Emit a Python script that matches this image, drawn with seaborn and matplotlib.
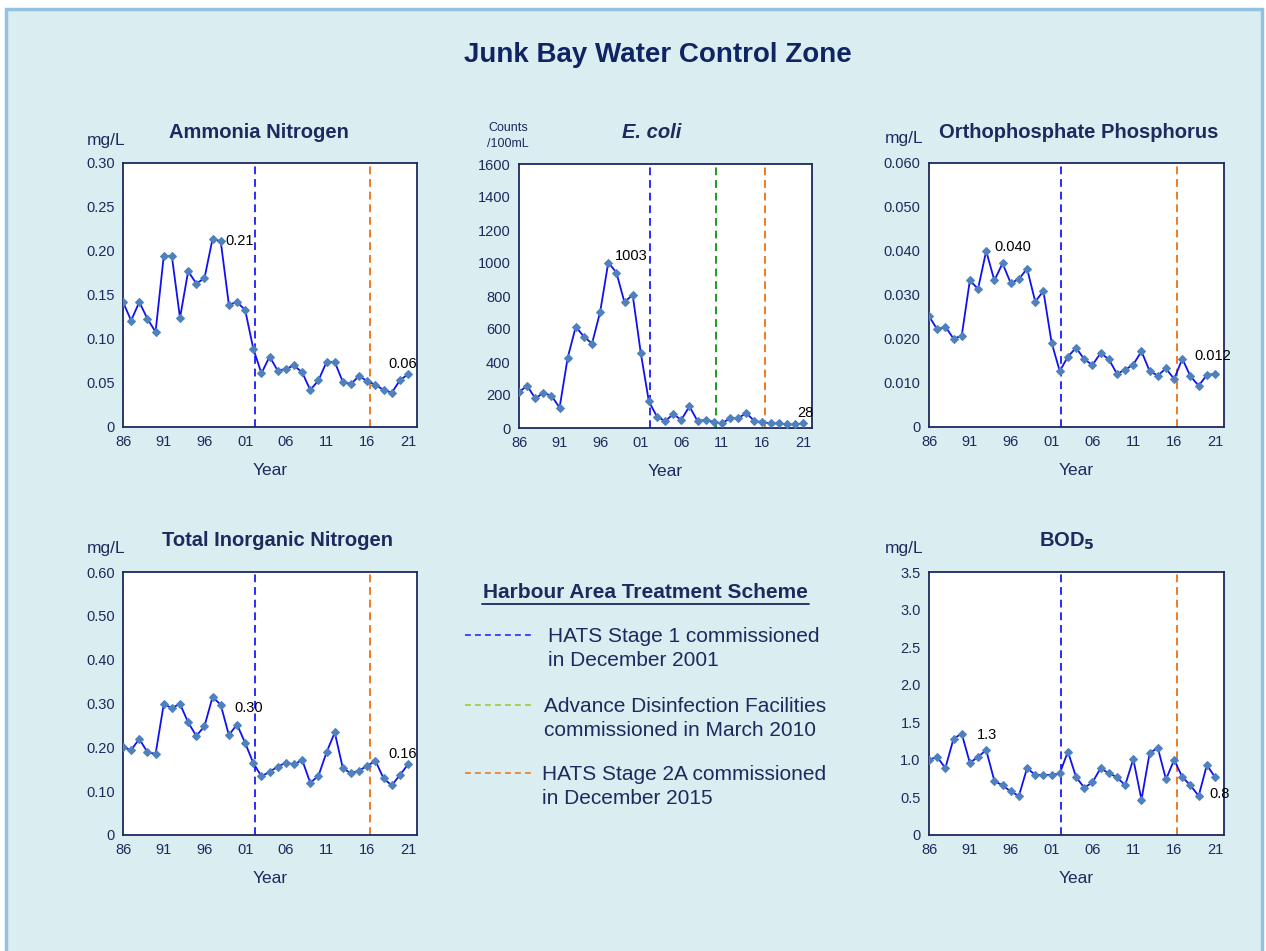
import matplotlib
matplotlib.use("Agg")
import matplotlib.pyplot as plt
import matplotlib.ticker as mticker
from matplotlib.patches import Rectangle
import numpy as np
import seaborn as sns

# ── data ────────────────────────────────────────────────────────────────────
years = list(range(1986, 2022))

ammonia = [0.142, 0.121, 0.142, 0.123, 0.108, 0.194, 0.194, 0.124, 0.177, 0.163,
           0.169, 0.214, 0.211, 0.139, 0.142, 0.133, 0.089, 0.061, 0.080, 0.064,
           0.066, 0.070, 0.062, 0.042, 0.053, 0.074, 0.074, 0.051, 0.049, 0.058,
           0.052, 0.048, 0.042, 0.039, 0.053, 0.060]

ecoli = [218, 256, 180, 212, 196, 123, 426, 615, 553, 512,
         704, 1003, 942, 761, 809, 456, 161, 69, 42, 83,
         50, 131, 42, 50, 36, 28, 59, 59, 91, 42,
         36, 28, 28, 22, 22, 28]

ortho_p = [0.0252, 0.0222, 0.0228, 0.0201, 0.0207, 0.0333, 0.0314, 0.0400, 0.0333, 0.0372,
           0.0327, 0.0336, 0.0360, 0.0285, 0.0309, 0.0192, 0.0127, 0.0160, 0.0180, 0.0154,
           0.0141, 0.0168, 0.0154, 0.0121, 0.0130, 0.0142, 0.0172, 0.0127, 0.0117, 0.0133,
           0.0109, 0.0155, 0.0115, 0.0094, 0.0118, 0.0121]

tin = [0.200, 0.194, 0.219, 0.189, 0.185, 0.298, 0.290, 0.299, 0.257, 0.226,
       0.248, 0.315, 0.297, 0.228, 0.252, 0.210, 0.164, 0.134, 0.144, 0.156,
       0.165, 0.161, 0.171, 0.119, 0.135, 0.189, 0.234, 0.152, 0.141, 0.147,
       0.158, 0.169, 0.129, 0.113, 0.137, 0.161]

bod5 = [1.00, 1.04, 0.89, 1.28, 1.35, 0.96, 1.04, 1.13, 0.72, 0.66,
        0.58, 0.52, 0.89, 0.80, 0.80, 0.80, 0.82, 1.11, 0.77, 0.63,
        0.70, 0.89, 0.82, 0.77, 0.66, 1.01, 0.47, 1.09, 1.16, 0.74,
        1.00, 0.77, 0.66, 0.52, 0.93, 0.77]

major_years = list(range(1986, 2022, 5))
major_labels = ["86", "91", "96", "01", "06", "11", "16", "21"]

hats1_x, adf_x, hats2a_x = 2002.15, 2010.25, 2016.3

# ── styling ─────────────────────────────────────────────────────────────────
NAVY = "#1c2a5e"
LINE = "#1010f0"
MARK = "#4f81bd"
C_HATS1 = "#2b2bff"
C_ADF = "#1f9a1f"
C_ADF_LEG = "#9acd32"
C_HATS2 = "#f07a22"
BG = "#daedf0"

W, H, DPI = 1266, 951, 100

sns.set_theme(style="white")
plt.rcParams["font.family"] = ["Liberation Sans", "DejaVu Sans"]

fig = plt.figure(figsize=(W / DPI, H / DPI), dpi=DPI, facecolor="white")
fig.patches.append(Rectangle((6 / W, -0.01), (1262 - 6) / W, (H - 9) / H + 0.01,
                             transform=fig.transFigure, facecolor=BG,
                             edgecolor="#93c1e1", linewidth=2.5, zorder=-10))


def px_axes(left, top, right, bottom):
    return fig.add_axes([left / W, 1 - bottom / H, (right - left) / W, (bottom - top) / H])


def panel(rect, values, title, title_xy, ymax, ystep, fmt, vlines, notes,
          title_style="normal"):
    ax = px_axes(*rect)
    ax.set_facecolor("white")
    sns.lineplot(x=years, y=values, ax=ax, color=LINE, linewidth=1.3,
                 marker="D", markersize=4.5, markerfacecolor=MARK,
                 markeredgecolor=MARK, zorder=3)
    for xv, col in vlines:
        ax.axvline(xv, color=col, linestyle=(0, (4, 2.5)), linewidth=1.4, zorder=2)
    for (xv, yv, txt) in notes:
        ax.text(xv, yv, txt, ha="center", va="center", fontsize=10.5, color="black", zorder=4)

    ax.set_xlim(1986, 2022.1)
    ax.set_ylim(0, ymax)
    ax.set_xticks(major_years)
    ax.set_xticklabels(major_labels)
    ax.xaxis.set_minor_locator(mticker.MultipleLocator(1))
    ax.set_yticks(np.arange(0, ymax + ystep / 2, ystep))
    ax.yaxis.set_major_formatter(mticker.FuncFormatter(
        lambda v, p: "0" if abs(v) < 1e-12 else fmt.format(v)))
    ax.tick_params(axis="both", which="both", direction="in", colors=NAVY,
                   labelsize=10.5, length=4, width=1, pad=6)
    for s in ax.spines.values():
        s.set_color(NAVY)
        s.set_linewidth(1.3)
    ax.set_xlabel("Year", fontsize=12.5, color=NAVY, labelpad=10)
    ax.set_ylabel("")
    ax.grid(False)

    fig.text(title_xy[0] / W, 1 - title_xy[1] / H, title, ha="center", va="center",
             fontsize=14.5, fontweight="bold", fontstyle=title_style, color=NAVY)
    return ax


# top row
ax1 = panel((123, 163, 417, 427), ammonia, "Ammonia Nitrogen", (259, 132),
            0.30, 0.05, "{:.2f}",
            [(hats1_x, C_HATS1), (hats2a_x, C_HATS2)],
            [(2000.3, 0.211, "0.21"), (2020.4, 0.072, "0.06")])
ax2 = panel((519, 164, 812, 428), ecoli, "E. coli", (652, 132),
            1600, 200, "{:.0f}",
            [(hats1_x, C_HATS1), (adf_x, C_ADF), (hats2a_x, C_HATS2)],
            [(1999.8, 1040, "1003"), (2021.3, 91, "28")], title_style="italic")
ax3 = panel((929, 163, 1224, 427), ortho_p, "Orthophosphate Phosphorus", (1079, 132),
            0.060, 0.010, "{:.3f}",
            [(hats1_x, C_HATS1), (hats2a_x, C_HATS2)],
            [(1996.3, 0.0408, "0.040"), (2020.7, 0.0161, "0.012")])
# bottom row
ax4 = panel((123, 572, 417, 835), tin, "Total Inorganic Nitrogen", (277, 541),
            0.60, 0.10, "{:.2f}",
            [(hats1_x, C_HATS1), (hats2a_x, C_HATS2)],
            [(2001.4, 0.290, "0.30"), (2020.3, 0.184, "0.16")])
ax5 = panel((929, 572, 1224, 835), bod5, "BOD$_\\mathbf{5}$", (1067, 541),
            3.5, 0.5, "{:.1f}",
            [(hats1_x, C_HATS1), (hats2a_x, C_HATS2)],
            [(1993.1, 1.33, "1.3"), (2021.5, 0.55, "0.8")])

# unit labels
for x_px, y_px in [(106, 140), (904, 138), (106, 549), (904, 549)]:
    fig.text(x_px / W, 1 - y_px / H, "mg/L", ha="center", va="center",
             fontsize=12.5, color=NAVY)
fig.text(508 / W, 1 - 136 / H, "Counts\n/100mL", ha="center", va="center",
         fontsize=9, color=NAVY, linespacing=1.5)

# main title
fig.text(658 / W, 1 - 55 / H, "Junk Bay Water Control Zone", ha="center", va="center",
         fontsize=20, fontweight="bold", color="#0f2462")

# HATS legend drawn on an overlay in pixel space
ov = fig.add_axes([0, 0, 1, 1], facecolor="none")
ov.set_xlim(0, W)
ov.set_ylim(H, 0)
ov.axis("off")
ov.text(645, 593, "Harbour Area Treatment Scheme", ha="center", va="center",
        fontsize=15, fontweight="bold", color=NAVY)
ov.plot([482, 809], [604, 604], color=NAVY, linewidth=1.3)

legend_items = [
    (C_HATS1, 635, 548, ["HATS Stage 1 commissioned", "in December 2001"]),
    (C_ADF_LEG, 705, 544, ["Advance Disinfection Facilities", "commissioned in March 2010"]),
    (C_HATS2, 773, 542, ["HATS Stage 2A commissioned", "in December 2015"]),
]
for col, y, tx, lines in legend_items:
    ov.plot([465, 532], [y, y], color=col, linestyle=(0, (3.5, 2.5)), linewidth=1.2)
    ov.text(tx, y + 2, lines[0], ha="left", va="center", fontsize=15, color=NAVY)
    ov.text(tx, y + 25, lines[1], ha="left", va="center", fontsize=15, color=NAVY)

fig.savefig("out.png", dpi=DPI, facecolor=fig.get_facecolor())
